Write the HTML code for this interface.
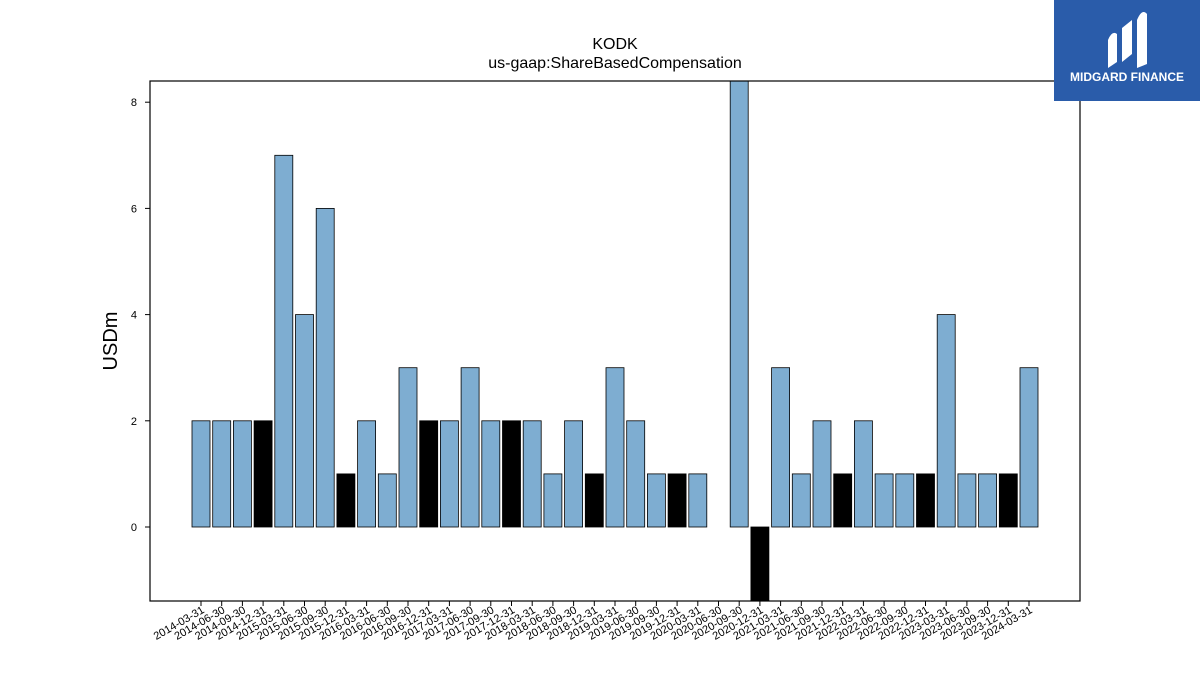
<!DOCTYPE html>
<html><head><meta charset="utf-8"><style>
body{margin:0;background:#fff;width:1200px;height:675px;overflow:hidden;font-family:"Liberation Sans","DejaVu Sans",sans-serif}
</style></head><body>
<svg width="1200" height="675" xmlns="http://www.w3.org/2000/svg">
<text x="615" y="49" font-size="16" text-anchor="middle">KODK</text>
<text x="615" y="68" font-size="16" text-anchor="middle">us-gaap:ShareBasedCompensation</text>
<text transform="translate(117,341) rotate(-90)" font-size="20" text-anchor="middle">USDm</text>
<defs><clipPath id="pc"><rect x="150" y="81" width="930" height="520"/></clipPath></defs>
<g id="bars" clip-path="url(#pc)"></g>
<g id="yticks"></g>
<g id="xticks"></g>
<rect x="150" y="81" width="930" height="520" fill="none" stroke="#000" stroke-width="1.2"/>
<g>
<rect x="1054" y="0" width="146" height="101" fill="#2a5caa"/>
<path d="M1108 68 L1108 40 Q1112 30 1117 34 L1117 62 Z M1122 62 L1122 28 L1132 20 L1132 54 Z M1137 68 L1137 20 Q1142 8 1147 14 L1147 64 Z" fill="#fff"/>
<text x="1127" y="81" font-size="12" font-weight="bold" fill="#fff" text-anchor="middle">MIDGARD FINANCE</text>
</g>
</svg>
<script>
const categories=["2014-03-31","2014-06-30","2014-09-30","2014-12-31","2015-03-31","2015-06-30","2015-09-30","2015-12-31","2016-03-31","2016-06-30","2016-09-30","2016-12-31","2017-03-31","2017-06-30","2017-09-30","2017-12-31","2018-03-31","2018-06-30","2018-09-30","2018-12-31","2019-03-31","2019-06-30","2019-09-30","2019-12-31","2020-03-31","2020-06-30","2020-09-30","2020-12-31","2021-03-31","2021-06-30","2021-09-30","2021-12-31","2022-03-31","2022-06-30","2022-09-30","2022-12-31","2023-03-31","2023-06-30","2023-09-30","2023-12-31","2024-03-31"];
const values=[2,2,2,2,7,4,6,1,2,1,3,2,2,3,2,2,2,1,2,1,3,2,1,1,1,0,9,-2,3,1,2,1,2,1,1,1,4,1,1,1,3];
const yTicks=[0,2,4,6,8];
const NS="http://www.w3.org/2000/svg";
const y=v=>527-v*53.1;
const x=i=>201+i*(1029-201)/(categories.length-1);
const bars=document.getElementById('bars'),yt=document.getElementById('yticks'),xt=document.getElementById('xticks');
values.forEach((v,i)=>{
 const r=document.createElementNS(NS,'rect');
 
 
 r.setAttribute('x',x(i)-9);r.setAttribute('width',18);
 r.setAttribute('y',Math.min(y(v),y(0)));r.setAttribute('height',Math.abs(y(v)-y(0)));
 r.setAttribute('fill',categories[i].endsWith('12-31')?'#000':'#7eadd1');
 r.setAttribute('stroke','#000');r.setAttribute('stroke-width','0.8');
 bars.appendChild(r);
});
yTicks.forEach(t=>{
 const l=document.createElementNS(NS,'line');
 
 
 l.setAttribute('x1',145);l.setAttribute('x2',150);l.setAttribute('y1',y(t));l.setAttribute('y2',y(t));l.setAttribute('stroke','#000');
 yt.appendChild(l);
 const s=document.createElementNS(NS,'text');
 
 
 s.setAttribute('x',137);s.setAttribute('y',y(t)+4);s.setAttribute('font-size','11');s.setAttribute('text-anchor','end');
 s.textContent=t;yt.appendChild(s);
});
categories.forEach((c,i)=>{
 const l=document.createElementNS(NS,'line');
 
 
 l.setAttribute('x1',x(i));l.setAttribute('x2',x(i));l.setAttribute('y1',601);l.setAttribute('y2',606);l.setAttribute('stroke','#000');
 xt.appendChild(l);
 const s=document.createElementNS(NS,'text');
 
 
 s.setAttribute('transform','translate('+(x(i)+4)+',612) rotate(-30)');
 s.setAttribute('font-size','11');s.setAttribute('text-anchor','end');
 s.textContent=c;xt.appendChild(s);
});
</script>
</body></html>
